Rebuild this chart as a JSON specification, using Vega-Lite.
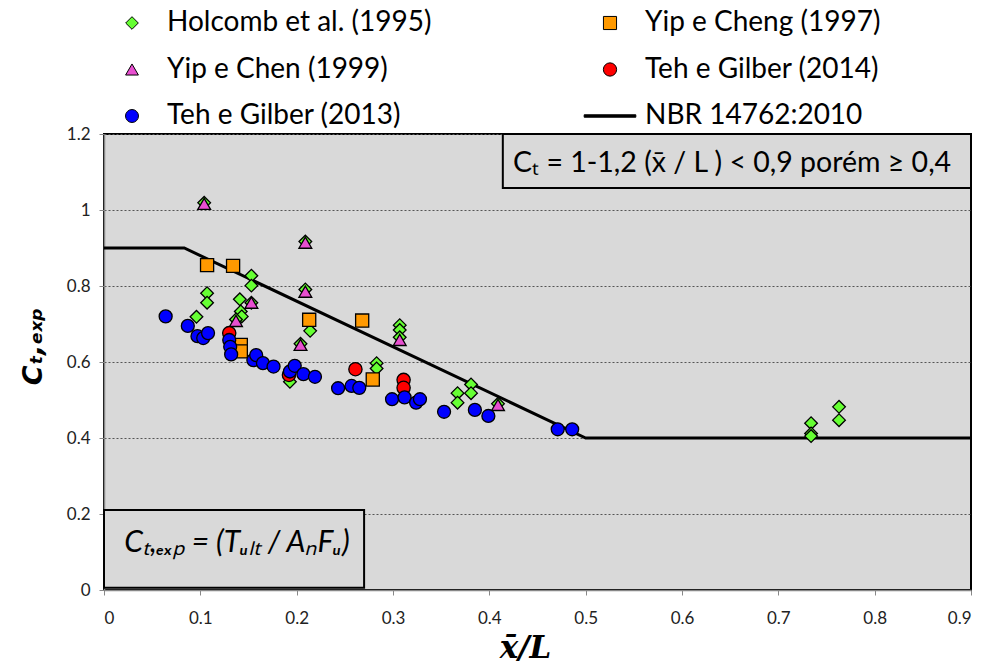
{
  "$schema": "https://vega.github.io/schema/vega-lite/v6.json",
  "width": 867,
  "height": 456,
  "autosize": {"type": "none"},
  "padding": {"left": 104, "top": 134, "right": 12, "bottom": 79},
  "background": "white",
  "config": {
    "view": {"fill": "#d9d9d9", "stroke": "black", "strokeWidth": 2},
    "font": "Lato",
    "axis": {
      "labelFont": "Lato",
      "labelFontSize": 17,
      "labelColor": "#222",
      "domainColor": "#888",
      "domainWidth": 1.5,
      "tickColor": "#888",
      "tickSize": 5,
      "zindex": 1
    },
    "legend": {
      "labelFont": "Lato",
      "labelFontSize": 28,
      "labelColor": "black",
      "labelLimit": 500
    }
  },
  "datasets": {
    "pts": [
      {"s": "Holcomb et al. (1995)", "x": 0.104, "y": 1.019},
      {"s": "Holcomb et al. (1995)", "x": 0.153, "y": 0.827},
      {"s": "Holcomb et al. (1995)", "x": 0.153, "y": 0.801},
      {"s": "Holcomb et al. (1995)", "x": 0.107, "y": 0.781},
      {"s": "Holcomb et al. (1995)", "x": 0.107, "y": 0.756},
      {"s": "Holcomb et al. (1995)", "x": 0.141, "y": 0.765},
      {"s": "Holcomb et al. (1995)", "x": 0.142, "y": 0.733},
      {"s": "Holcomb et al. (1995)", "x": 0.096, "y": 0.719},
      {"s": "Holcomb et al. (1995)", "x": 0.143, "y": 0.72},
      {"s": "Holcomb et al. (1995)", "x": 0.153, "y": 0.756},
      {"s": "Holcomb et al. (1995)", "x": 0.137, "y": 0.712},
      {"s": "Holcomb et al. (1995)", "x": 0.209, "y": 0.917},
      {"s": "Holcomb et al. (1995)", "x": 0.209, "y": 0.791},
      {"s": "Holcomb et al. (1995)", "x": 0.214, "y": 0.682},
      {"s": "Holcomb et al. (1995)", "x": 0.204, "y": 0.648},
      {"s": "Holcomb et al. (1995)", "x": 0.193, "y": 0.548},
      {"s": "Holcomb et al. (1995)", "x": 0.283, "y": 0.597},
      {"s": "Holcomb et al. (1995)", "x": 0.283, "y": 0.583},
      {"s": "Holcomb et al. (1995)", "x": 0.307, "y": 0.697},
      {"s": "Holcomb et al. (1995)", "x": 0.307, "y": 0.684},
      {"s": "Holcomb et al. (1995)", "x": 0.307, "y": 0.665},
      {"s": "Holcomb et al. (1995)", "x": 0.381, "y": 0.541},
      {"s": "Holcomb et al. (1995)", "x": 0.381, "y": 0.518},
      {"s": "Holcomb et al. (1995)", "x": 0.367, "y": 0.518},
      {"s": "Holcomb et al. (1995)", "x": 0.367, "y": 0.493},
      {"s": "Holcomb et al. (1995)", "x": 0.409, "y": 0.49},
      {"s": "Holcomb et al. (1995)", "x": 0.734, "y": 0.439},
      {"s": "Holcomb et al. (1995)", "x": 0.734, "y": 0.412},
      {"s": "Holcomb et al. (1995)", "x": 0.734, "y": 0.405},
      {"s": "Holcomb et al. (1995)", "x": 0.763, "y": 0.482},
      {"s": "Holcomb et al. (1995)", "x": 0.763, "y": 0.447},
      {"s": "Yip e Cheng (1997)", "x": 0.107, "y": 0.855},
      {"s": "Yip e Cheng (1997)", "x": 0.134, "y": 0.853},
      {"s": "Yip e Cheng (1997)", "x": 0.142, "y": 0.645},
      {"s": "Yip e Cheng (1997)", "x": 0.142, "y": 0.628},
      {"s": "Yip e Cheng (1997)", "x": 0.213, "y": 0.711},
      {"s": "Yip e Cheng (1997)", "x": 0.268, "y": 0.709},
      {"s": "Yip e Cheng (1997)", "x": 0.279, "y": 0.554},
      {"s": "Yip e Chen (1999)", "x": 0.104, "y": 1.016},
      {"s": "Yip e Chen (1999)", "x": 0.209, "y": 0.914},
      {"s": "Yip e Chen (1999)", "x": 0.209, "y": 0.785},
      {"s": "Yip e Chen (1999)", "x": 0.153, "y": 0.756},
      {"s": "Yip e Chen (1999)", "x": 0.137, "y": 0.708},
      {"s": "Yip e Chen (1999)", "x": 0.204, "y": 0.645},
      {"s": "Yip e Chen (1999)", "x": 0.307, "y": 0.658},
      {"s": "Yip e Chen (1999)", "x": 0.409, "y": 0.487},
      {"s": "Teh e Gilber (2014)", "x": 0.130, "y": 0.676},
      {"s": "Teh e Gilber (2014)", "x": 0.261, "y": 0.581},
      {"s": "Teh e Gilber (2014)", "x": 0.311, "y": 0.553},
      {"s": "Teh e Gilber (2014)", "x": 0.311, "y": 0.532},
      {"s": "Teh e Gilber (2014)", "x": 0.192, "y": 0.566},
      {"s": "Teh e Gilber (2013)", "x": 0.064, "y": 0.72},
      {"s": "Teh e Gilber (2013)", "x": 0.087, "y": 0.695},
      {"s": "Teh e Gilber (2013)", "x": 0.097, "y": 0.668},
      {"s": "Teh e Gilber (2013)", "x": 0.103, "y": 0.663},
      {"s": "Teh e Gilber (2013)", "x": 0.108, "y": 0.676},
      {"s": "Teh e Gilber (2013)", "x": 0.130, "y": 0.658},
      {"s": "Teh e Gilber (2013)", "x": 0.131, "y": 0.64},
      {"s": "Teh e Gilber (2013)", "x": 0.132, "y": 0.62},
      {"s": "Teh e Gilber (2013)", "x": 0.155, "y": 0.605},
      {"s": "Teh e Gilber (2013)", "x": 0.158, "y": 0.618},
      {"s": "Teh e Gilber (2013)", "x": 0.165, "y": 0.597},
      {"s": "Teh e Gilber (2013)", "x": 0.176, "y": 0.588},
      {"s": "Teh e Gilber (2013)", "x": 0.193, "y": 0.575},
      {"s": "Teh e Gilber (2013)", "x": 0.198, "y": 0.59},
      {"s": "Teh e Gilber (2013)", "x": 0.207, "y": 0.568},
      {"s": "Teh e Gilber (2013)", "x": 0.219, "y": 0.561},
      {"s": "Teh e Gilber (2013)", "x": 0.243, "y": 0.531},
      {"s": "Teh e Gilber (2013)", "x": 0.257, "y": 0.537},
      {"s": "Teh e Gilber (2013)", "x": 0.265, "y": 0.532},
      {"s": "Teh e Gilber (2013)", "x": 0.299, "y": 0.502},
      {"s": "Teh e Gilber (2013)", "x": 0.312, "y": 0.507},
      {"s": "Teh e Gilber (2013)", "x": 0.324, "y": 0.493},
      {"s": "Teh e Gilber (2013)", "x": 0.328, "y": 0.502},
      {"s": "Teh e Gilber (2013)", "x": 0.353, "y": 0.469},
      {"s": "Teh e Gilber (2013)", "x": 0.385, "y": 0.474},
      {"s": "Teh e Gilber (2013)", "x": 0.399, "y": 0.458},
      {"s": "Teh e Gilber (2013)", "x": 0.471, "y": 0.423},
      {"s": "Teh e Gilber (2013)", "x": 0.486, "y": 0.423}
    ],
    "nbr": [
      {"x": 0, "y": 0.9},
      {"x": 0.0833, "y": 0.9},
      {"x": 0.5, "y": 0.4},
      {"x": 0.9, "y": 0.4}
    ],
    "boxes": [
      {"x": 0.414, "x2": 0.9, "y": 1.2, "y2": 1.058},
      {"x": 0, "x2": 0.27, "y": 0.006, "y2": 0.2105}
    ],
    "notes": [
      {"x": 0.652, "y": 1.124, "t": "Cₜ = 1-1,2 (x̄  / L ) < 0,9 porém ≥ 0,4", "k": "a"},
      {"x": 0.138, "y": 0.124, "t": "Cₜ,ₑₓₚ = (Tᵤₗₜ / AₙFᵤ)", "k": "b"}
    ]
  },
  "layer": [
    {
      "data": {"name": "nbr"},
      "mark": {"type": "line", "color": "black", "strokeWidth": 3},
      "encoding": {
        "x": {
          "field": "x", "type": "quantitative",
          "scale": {"domain": [0, 0.9], "nice": false},
          "axis": {
            "values": [0, 0.1, 0.2, 0.3, 0.4, 0.5, 0.6, 0.7, 0.8, 0.9],
            "format": "~g",
            "grid": false,
            "title": "x̄/L",
            "titleFont": "DejaVu Serif",
            "titleFontStyle": "italic",
            "titleFontWeight": "bold",
            "titleFontSize": 31,
            "titleColor": "black",
            "titleX": 421,
            "titleAlign": "center",
            "titlePadding": 7,
            "labelPadding": 15
          }
        },
        "y": {
          "field": "y", "type": "quantitative",
          "scale": {"domain": [0, 1.2], "nice": false},
          "axis": {
            "values": [0, 0.2, 0.4, 0.6, 0.8, 1, 1.2],
            "format": "~g",
            "grid": true,
            "gridColor": "#555",
            "gridDash": [2, 2],
            "gridWidth": 1,
            "title": "Cₜ,ₑₓₚ",
            "titleFont": "DejaVu Sans",
            "titleFontStyle": "italic",
            "titleFontWeight": "bold",
            "titleFontSize": 27,
            "titleColor": "black",
            "titleY": 212,
            "titleAlign": "center",
            "titlePadding": 19,
            "labelPadding": 9
          }
        }
      }
    },
    {
      "data": {"name": "boxes"},
      "mark": {"type": "rect", "fill": "#d9d9d9", "stroke": "black", "strokeWidth": 2},
      "encoding": {
        "x": {"field": "x", "type": "quantitative"},
        "x2": {"field": "x2"},
        "y": {"field": "y", "type": "quantitative"},
        "y2": {"field": "y2"}
      }
    },
    {
      "data": {"name": "notes"},
      "transform": [{"filter": "datum.k == 'a'"}],
      "mark": {"type": "text", "font": "Lato", "fontSize": 28.5, "color": "black", "align": "center", "baseline": "middle"},
      "encoding": {
        "x": {"field": "x", "type": "quantitative"},
        "y": {"field": "y", "type": "quantitative"},
        "text": {"field": "t"}
      }
    },
    {
      "data": {"name": "notes"},
      "transform": [{"filter": "datum.k == 'b'"}],
      "mark": {"type": "text", "font": "Lato", "fontSize": 30, "fontStyle": "italic", "color": "black", "align": "center", "baseline": "middle"},
      "encoding": {
        "x": {"field": "x", "type": "quantitative"},
        "y": {"field": "y", "type": "quantitative"},
        "text": {"field": "t"}
      }
    },
    {
      "data": {"name": "pts"},
      "mark": {"type": "point", "filled": true, "stroke": "black", "strokeWidth": 1.3, "opacity": 1},
      "encoding": {
        "x": {"field": "x", "type": "quantitative"},
        "y": {"field": "y", "type": "quantitative"},
        "color": {
          "field": "s", "type": "nominal",
          "scale": {
            "domain": ["Holcomb et al. (1995)", "Yip e Chen (1999)", "Teh e Gilber (2013)", "Yip e Cheng (1997)", "Teh e Gilber (2014)", "NBR 14762:2010"],
            "range": ["#66ff33", "#e84fd0", "#0000ff", "#ff9900", "#ff0000", "#000000"]
          },
          "legend": {
            "title": null,
            "orient": "none",
            "legendX": 14,
            "legendY": -125,
            "columns": 2,
            "columnPadding": 150,
            "rowPadding": 18.5,
            "labelOffset": 21,
            "symbolSize": 170,
            "symbolStrokeColor": "black",
            "symbolStrokeWidth": 1
          }
        },
        "shape": {
          "field": "s", "type": "nominal",
          "scale": {
            "domain": ["Holcomb et al. (1995)", "Yip e Chen (1999)", "Teh e Gilber (2013)", "Yip e Cheng (1997)", "Teh e Gilber (2014)", "NBR 14762:2010"],
            "range": ["diamond", "triangle-up", "circle", "square", "circle", "M-3.85,-0.18L3.85,-0.18L3.85,0.18L-3.85,0.18Z"]
          },
          "legend": {
            "title": null,
            "orient": "none",
            "legendX": 14,
            "legendY": -125,
            "columns": 2,
            "columnPadding": 150,
            "rowPadding": 18.5,
            "labelOffset": 21,
            "symbolSize": 170,
            "symbolStrokeColor": "black",
            "symbolStrokeWidth": 1
          }
        },
        "size": {
          "field": "s", "type": "nominal",
          "scale": {
            "domain": ["Holcomb et al. (1995)", "Yip e Chen (1999)", "Teh e Gilber (2013)", "Yip e Cheng (1997)", "Teh e Gilber (2014)", "NBR 14762:2010"],
            "range": [160, 180, 250, 200, 250, 100]
          },
          "legend": null
        }
      }
    }
  ]
}
